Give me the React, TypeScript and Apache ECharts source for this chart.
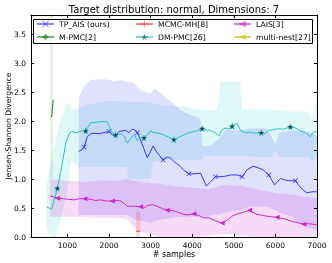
import React, { useEffect, useRef } from "react";
import * as echarts from "echarts";

const FONT = "DejaVu Sans";

const X_TICKS = [1000, 2000, 3000, 4000, 5000, 6000, 7000];

const TP_AIS: [number, number][] = [
  [1270, 1.48], [1340, 1.5], [1400, 1.55], [1480, 1.73], [1560, 1.78], [1640, 1.79], [1760, 1.78],
  [1880, 1.8], [2000, 1.82], [2080, 1.76], [2160, 1.74], [2240, 1.82], [2320, 1.83], [2400, 1.84],
  [2480, 1.8], [2560, 1.86], [2640, 1.84], [2680, 1.8], [2760, 1.67], [2840, 1.52], [2920, 1.37],
  [2980, 1.45], [3060, 1.57], [3140, 1.47], [3220, 1.4], [3300, 1.33], [3400, 1.38], [3480, 1.36],
  [3560, 1.3], [3680, 1.24], [3800, 1.15], [3920, 1.09], [4040, 1.09], [4200, 1.1], [4340, 0.88],
  [4440, 0.95], [4560, 1.04], [4680, 1.04], [4800, 1.05], [4920, 1.07], [5080, 1.07], [5200, 1.04],
  [5320, 1.16], [5460, 1.22], [5600, 1.19], [5700, 1.16], [5840, 1.07], [5980, 0.9], [6120, 1.01],
  [6240, 0.98], [6340, 0.97], [6480, 0.97], [6620, 0.84], [6760, 0.76], [6880, 0.78], [7000, 0.78],
];
const TP_AIS_MARKS = [1400, 2000, 2680, 3300, 3920, 4560, 5200, 5840, 6480];
const TP_AIS_BAND: [number, number, number][] = [
  [1270, 0.38, 2.4], [1400, 0.38, 2.6], [1560, 0.38, 2.71], [1800, 0.38, 2.72], [2000, 0.38, 2.72],
  [2100, 0.38, 2.68], [2280, 0.38, 2.71], [2450, 0.38, 2.68], [2600, 0.3, 2.66], [2760, 0.28, 2.53],
  [3000, 0.25, 2.48], [3100, 0.27, 2.56], [3250, 0.3, 2.48], [3560, 0.33, 2.3], [3720, 0.35, 2.19],
  [3900, 0.35, 2.12], [4200, 0.35, 2.05], [4240, 0.36, 1.56], [4450, 0.37, 1.58], [4650, 0.4, 1.7],
  [4800, 0.42, 1.84], [5200, 0.48, 1.84], [5400, 0.52, 1.87], [5800, 0.52, 1.87], [6000, 0.47, 1.6],
  [6100, 0.42, 1.8], [6400, 0.35, 1.84], [6600, 0.22, 1.83], [6800, 0.16, 1.82], [6960, 0.13, 1.76],
  [7000, 0.12, 1.72],
];

const DM_PMC: [number, number][] = [
  [500, 0.52], [560, 0.5], [620, 0.48], [700, 0.68], [760, 0.84], [860, 1.2], [960, 1.62], [1040, 1.78],
  [1100, 1.82], [1200, 1.8], [1300, 1.82], [1440, 1.83], [1500, 1.9], [1560, 1.97], [1700, 1.98],
  [1800, 1.99], [1960, 1.99], [2020, 1.88], [2080, 1.8], [2160, 1.76], [2280, 1.78], [2360, 1.75],
  [2440, 1.62], [2520, 1.7], [2600, 1.77], [2680, 1.67], [2760, 1.72], [2840, 1.71], [2920, 1.76],
  [3000, 1.83], [3080, 1.8], [3200, 1.79], [3320, 1.76], [3440, 1.72], [3560, 1.68], [3680, 1.72],
  [3800, 1.76], [3920, 1.8], [4040, 1.82], [4160, 1.84], [4240, 1.87], [4340, 1.85], [4440, 1.84],
  [4560, 1.8], [4640, 1.74], [4720, 1.85], [4800, 1.88], [4880, 1.86], [4960, 1.91], [5080, 1.96],
  [5160, 1.84], [5280, 1.8], [5400, 1.81], [5520, 1.79], [5660, 1.8], [5760, 1.78], [5830, 1.84],
  [5950, 1.85], [6070, 1.87], [6200, 1.86], [6360, 1.9], [6480, 1.88], [6600, 1.83], [6720, 1.8],
  [6840, 1.73], [6920, 1.82], [7000, 1.81],
];
const DM_PMC_MARKS = [760, 1440, 2160, 2840, 3560, 4240, 4960, 5660, 6360];
const DM_PMC_BAND: [number, number, number][] = [
  [500, 0.15, 0.88], [560, 0.03, 1.16], [640, 0.0, 1.4], [720, 0.0, 1.67], [840, 0.29, 2.05],
  [1000, 0.81, 2.3], [1040, 1.0, 2.33], [1080, 1.3, 2.25], [1120, 1.3, 2.19], [1265, 1.21, 2.22],
  [1600, 1.21, 2.3], [2000, 1.21, 2.35], [2440, 1.21, 2.33], [2460, 1.01, 2.33], [3000, 1.01, 2.33],
  [3060, 1.3, 2.3], [3400, 1.33, 2.26], [3800, 1.33, 2.25], [4200, 1.33, 2.19], [4300, 1.4, 2.19],
  [4600, 1.4, 2.19], [4680, 1.4, 2.68], [5160, 1.4, 2.68], [5200, 1.4, 2.2], [5600, 1.38, 2.2],
  [5900, 1.38, 2.2], [6000, 1.5, 2.2], [6100, 1.38, 2.18], [6800, 1.38, 2.16], [6880, 1.3, 2.02],
  [6940, 1.35, 2.3], [7000, 1.4, 2.32],
];

const LAIS: [number, number][] = [
  [580, 0.71], [680, 0.69], [760, 0.67], [900, 0.66], [1040, 0.65], [1160, 0.64], [1280, 0.66],
  [1420, 0.66], [1560, 0.65], [1680, 0.63], [1800, 0.64], [1940, 0.62], [2080, 0.62], [2200, 0.63],
  [2280, 0.62], [2360, 0.58], [2440, 0.53], [2520, 0.53], [2600, 0.53], [2760, 0.52], [2840, 0.5],
  [2920, 0.54], [3040, 0.56], [3160, 0.53], [3280, 0.49], [3400, 0.46], [3520, 0.46], [3640, 0.43],
  [3760, 0.4], [3880, 0.38], [4040, 0.4], [4160, 0.37], [4280, 0.33], [4400, 0.33], [4560, 0.28],
  [4720, 0.24], [4840, 0.29], [4960, 0.36], [5080, 0.4], [5200, 0.42], [5380, 0.46], [5520, 0.4],
  [5640, 0.38], [5780, 0.36], [5900, 0.35], [6040, 0.34], [6160, 0.32], [6240, 0.31], [6400, 0.27],
  [6520, 0.25], [6680, 0.22], [6800, 0.23], [6900, 0.22], [7000, 0.21],
];
const LAIS_MARKS = [760, 1420, 2080, 2760, 3400, 4040, 4720, 5380, 6040, 6680];
const LAIS_BAND: [number, number, number][] = [
  [580, 0.35, 1.0], [1000, 0.35, 0.97], [1400, 0.35, 0.95], [1800, 0.33, 0.98], [2200, 0.33, 0.97],
  [2450, 0.3, 1.0], [2600, 0.15, 0.97], [2760, 0.1, 0.95], [3000, 0.05, 0.93], [3200, 0.0, 0.92],
  [3600, 0.0, 0.88], [4000, 0.0, 0.85], [4400, 0.02, 0.83], [4800, 0.05, 0.9], [5200, 0.02, 0.88],
  [5600, 0.0, 0.82], [6000, 0.0, 0.76], [6400, 0.0, 0.73], [7000, 0.0, 0.67],
];

const M_PMC: [number, number][] = [[620, 2.07], [660, 2.37]];
const M_PMC_BAND: [number, number, number][] = [[590, 1.0, 3.83], [650, 1.0, 3.83]];

const MCMC_MH: [number, number][] = [[2650, 0.1], [2750, 0.1]];
const MCMC_MH_BAND: [number, number, number][] = [[2650, 0.0, 0.44], [2750, 0.0, 0.44]];

const MULTI_NEST: [number, number][] = [];

const SYM_X = "path://M0,1L1,0L5,4L9,0L10,1L6,5L10,9L9,10L5,6L1,10L0,9L4,5Z";
const SYM_PLUS = "path://M4.3,0L5.7,0L5.7,4.3L10,4.3L10,5.7L5.7,5.7L5.7,10L4.3,10L4.3,5.7L0,5.7L0,4.3L4.3,4.3Z";
const SYM_TRI_L = "path://M0,5L10,0L10,10Z";
const SYM_STAR = "path://M5,0L6.2,3.5L10,3.6L7,5.9L8.1,9.5L5,7.4L1.9,9.5L3,5.9L0,3.6L3.8,3.5Z";

function lineData(pts: [number, number][], marks: number[]) {
  return pts.map(([x, y]) =>
    marks.includes(x) ? { value: [x, y] } : { value: [x, y], symbol: "none" }
  );
}

function bandSeries(band: [number, number, number][], fill: string) {
  return {
    type: "custom",
    coordinateSystem: "cartesian2d",
    silent: true,
    z: 1,
    data: band,
    encode: { x: 0, y: [1, 2] },
    renderItem: (params: any, api: any) => {
      if (params.dataIndex !== 0) return null;
      const cs = params.coordSys;
      const clampY = (p: number[]) => [p[0], Math.max(cs.y, Math.min(cs.y + cs.height, p[1]))];
      const pts: number[][] = [];
      for (const b of band) pts.push(clampY(api.coord([b[0], b[2]])));
      for (let i = band.length - 1; i >= 0; i--) pts.push(clampY(api.coord([band[i][0], band[i][1]])));
      return { type: "polygon", shape: { points: pts }, style: { fill } };
    },
  };
}

export default function App() {
  const ref = useRef<HTMLDivElement>(null);
  useEffect(() => {
    if (!ref.current) return;
    const chart = echarts.init(ref.current, null, { renderer: "svg" });
    const Y_MAX = 3.83;
    const legendCommon = {
      orient: "vertical",
      top: 20,
      itemWidth: 17,
      itemHeight: 8,
      itemGap: 5,
      padding: 0,
      selectedMode: false,
      itemStyle: { borderWidth: 0, opacity: 0.6 },
      lineStyle: { opacity: 0.6 },
      textStyle: { fontSize: 7.7, fontFamily: FONT, color: "#000" },
    };
    const line = (name: string, data: any[], color: string, symbol: string, size: number, itemStyle?: any) => ({
      type: "line",
      name,
      data,
      symbol,
      symbolSize: size,
      showAllSymbol: true,
      lineStyle: { color, width: 1 },
      itemStyle: itemStyle || { color },
      z: 3,
      clip: true,
    });
    chart.setOption({
      animation: false,
      grid: { left: 31, right: 15, top: 15, bottom: 26 },
      xAxis: [
        {
          type: "value",
          min: 125,
          max: 7000,
          axisLine: { show: true, onZero: false, lineStyle: { color: "#000", width: 1 } },
          axisTick: { show: true, inside: true, length: 3, customValues: X_TICKS, lineStyle: { color: "#000" } },
          axisLabel: {
            customValues: X_TICKS,
            fontSize: 7.5,
            fontFamily: FONT,
            color: "#000",
            margin: 4,
            formatter: (v: number) => String(v),
          },
          splitLine: { show: false },
        },
        {
          type: "value",
          position: "top",
          min: 125,
          max: 7000,
          axisLine: { show: true, onZero: false, lineStyle: { color: "#000", width: 1 } },
          axisTick: { show: true, inside: true, length: 3, customValues: X_TICKS, lineStyle: { color: "#000" } },
          axisLabel: { show: false },
          splitLine: { show: false },
        },
      ],
      yAxis: [
        {
          type: "value",
          min: 0,
          max: Y_MAX,
          interval: 0.5,
          axisLine: { show: true, onZero: false, lineStyle: { color: "#000", width: 1 } },
          axisTick: { show: true, inside: true, length: 3, lineStyle: { color: "#000" } },
          axisLabel: {
            fontSize: 7.5,
            fontFamily: FONT,
            color: "#000",
            margin: 5,
            formatter: (v: number) => (Math.abs(v / 0.5 - Math.round(v / 0.5)) < 1e-6 ? v.toFixed(1) : ""),
          },
          splitLine: { show: false },
        },
        {
          type: "value",
          position: "right",
          min: 0,
          max: Y_MAX,
          interval: 0.5,
          axisLine: { show: true, onZero: false, lineStyle: { color: "#000", width: 1 } },
          axisTick: { show: true, inside: true, length: 3, lineStyle: { color: "#000" } },
          axisLabel: { show: false },
          splitLine: { show: false },
        },
      ],
      legend: [
        { ...legendCommon, left: 36, data: ["TP_AIS (ours)", "M-PMC[2]"] },
        { ...legendCommon, left: 135, data: ["MCMC-MH[8]", "DM-PMC[26]"] },
        { ...legendCommon, left: 233, data: ["LAIS[3]", "multi-nest[27]"] },
      ],
      graphic: [
        {
          type: "rect",
          z: 3,
          shape: { x: 33.5, y: 19.5, width: 279, height: 24 },
          style: { fill: "#fff", stroke: "#000", lineWidth: 1 },
        },
        {
          type: "text",
          x: 174,
          y: 9,
          style: {
            text: "Target distribution: normal, Dimensions: 7",
            fontSize: 10,
            fontFamily: FONT,
            fill: "#000",
            textAlign: "center",
            textVerticalAlign: "middle",
          },
        },
        {
          type: "text",
          x: 174,
          y: 254,
          style: {
            text: "# samples",
            fontSize: 8,
            fontFamily: FONT,
            fill: "#000",
            textAlign: "center",
            textVerticalAlign: "middle",
          },
        },
        {
          type: "text",
          x: 8,
          y: 126,
          rotation: Math.PI / 2,
          style: {
            text: "Jensen-Shannon Divergence",
            fontSize: 7.6,
            fontFamily: FONT,
            fill: "#000",
            textAlign: "center",
            textVerticalAlign: "middle",
          },
        },
      ],
      series: [
        bandSeries(M_PMC_BAND, "rgba(0,128,0,0.12)"),
        bandSeries(DM_PMC_BAND, "rgba(0,191,191,0.12)"),
        bandSeries(TP_AIS_BAND, "rgba(0,0,255,0.12)"),
        bandSeries(LAIS_BAND, "rgba(191,0,191,0.14)"),
        bandSeries(MCMC_MH_BAND, "rgba(255,0,0,0.15)"),
        line("TP_AIS (ours)", lineData(TP_AIS, TP_AIS_MARKS), "#3333ff", SYM_X, 5),
        line("M-PMC[2]", lineData(M_PMC, []), "#1a801a", "diamond", 5),
        line("MCMC-MH[8]", lineData(MCMC_MH, []), "#ff3333", SYM_PLUS, 6),
        line("DM-PMC[26]", lineData(DM_PMC, DM_PMC_MARKS), "#22c4c4", SYM_STAR, 6, {
          color: "#123c3c",
          borderColor: "#22c4c4",
          borderWidth: 0.4,
        }),
        line("LAIS[3]", lineData(LAIS, LAIS_MARKS), "#cc22cc", SYM_TRI_L, 5),
        line("multi-nest[27]", lineData(MULTI_NEST, []), "#bfbf00", SYM_TRI_L, 5),
      ],
    });
    return () => chart.dispose();
  }, []);
  return (
    <div
      ref={ref}
      style={{ position: "fixed", left: 0, top: 0, width: 332, height: 263 }}
    />
  );
}
